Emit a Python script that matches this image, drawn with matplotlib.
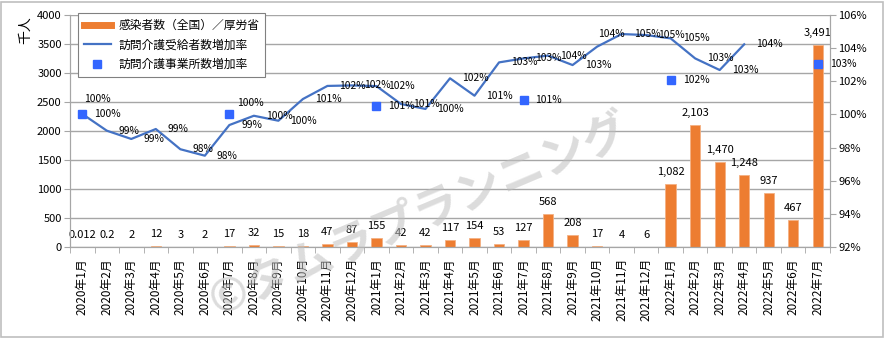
import matplotlib.pyplot as plt
import matplotlib.patches as mpatches
from matplotlib.lines import Line2D
import numpy as np

plt.rcParams['font.family'] = ['Noto Sans CJK JP', 'DejaVu Sans']

months = ['2020年1月', '2020年2月', '2020年3月', '2020年4月', '2020年5月', '2020年6月',
          '2020年7月', '2020年8月', '2020年9月', '2020年10月', '2020年11月', '2020年12月',
          '2021年1月', '2021年2月', '2021年3月', '2021年4月', '2021年5月', '2021年6月',
          '2021年7月', '2021年8月', '2021年9月', '2021年10月', '2021年11月', '2021年12月',
          '2022年1月', '2022年2月', '2022年3月', '2022年4月', '2022年5月', '2022年6月',
          '2022年7月']

# 感染者数(千人)
infected = [0.012, 0.2, 2, 12, 3, 2, 17, 32, 15, 18, 47, 87,
            155, 42, 42, 117, 154, 53, 127, 568, 208, 17, 4, 6,
            1082, 2103, 1470, 1248, 937, 467, 3491]

# 訪問介護受給者数増加率(%)
users_rate = [100.03, 99.02, 98.52, 99.12, 97.90, 97.51, 99.36, 99.92, 99.62, 100.93,
              101.72, 101.75, 101.71, 100.63, 100.33, 102.18, 101.13, 103.14, 103.38,
              103.55, 102.98, 104.09, 104.85, 104.79, 104.59, 103.38, 102.68, 104.23,
              np.nan, np.nan, np.nan]

# 訪問介護事業所数増加率(%)
office_idx = [0, 6, 12, 18, 24, 30]
office_rate = [100.03, 100.03, 100.52, 100.86, 102.08, 103.04]

orange = '#ED7D31'
blue = '#4472C4'
sq_blue = '#3366FF'
grey = '#A6A6A6'

x = np.arange(len(months))

fig = plt.figure(figsize=(8.84, 3.43), dpi=100)
ax = fig.add_axes([70/884, 1-247/343, 760/884, 232/343])
ax2 = ax.twinx()

ax.bar(x, infected, width=0.42, color=orange, edgecolor='#F4B183', linewidth=0.6, zorder=2)
for xi, v in zip(x, infected):
    ax.annotate('{:,}'.format(v), (xi, v), xytext=(0, 7), textcoords='offset pixels',
                ha='center', va='bottom', fontsize=8)

ax.set_xlim(-0.5, len(months)-0.5)
ax.set_ylim(0, 4000)
ax.set_yticks(np.arange(0, 4001, 500))
ax.set_xticks(x)
ax.set_xticklabels(months, rotation=90, fontsize=8.5)
ax.set_xticks(np.arange(-0.5, len(months)), minor=True)
ax.tick_params(axis='x', which='major', length=0, pad=8)
ax.tick_params(axis='x', which='minor', length=4, color=grey)
ax.tick_params(axis='y', length=4, color=grey, labelsize=8, pad=2)
ax.yaxis.grid(True, color=grey, lw=1)
ax.set_axisbelow(True)
ax.spines['top'].set_visible(False)
ax2.spines['top'].set_visible(False)
for s in ['left', 'right', 'bottom']:
    ax.spines[s].set_color(grey)
    ax2.spines[s].set_color(grey)

ax2.plot(x, users_rate, color=blue, lw=1.6, zorder=3)
ax2.plot(office_idx, office_rate, ls='none', marker='s', ms=5.5, color=sq_blue, zorder=4)
ax2.set_ylim(92, 106)
ax2.set_yticks(np.arange(92, 107, 2))
ax2.set_yticklabels([f'{t}%' for t in range(92, 107, 2)])
ax2.tick_params(axis='y', length=4, color=grey, labelsize=8, pad=2)

# Excel moved a few labels to dodge neighbours
line_nudge = {21: (1, 13)}
for xi, v in zip(x, users_rate):
    if np.isnan(v):
        continue
    dx, dy = line_nudge.get(xi, (12, 0))
    ax2.annotate(f'{round(v)}%', (xi, v), xytext=(dx, dy), textcoords='offset pixels',
                 ha='left', va='center', fontsize=7.4)

office_nudge = {0: (2, 15), 6: (8, 11)}
for xi, v in zip(office_idx, office_rate):
    dx, dy = office_nudge.get(xi, (12, 0))
    ax2.annotate(f'{round(v)}%', (xi, v), xytext=(dx, dy), textcoords='offset pixels',
                 ha='left', va='center', fontsize=7.4)

handles = [Line2D([], [], color=orange, lw=5),
           Line2D([], [], color=blue, lw=1.6),
           Line2D([], [], ls='none', marker='s', ms=5.5, color=sq_blue)]
labels = ['感染者数（全国）／厚労省', '訪問介護受給者数増加率', '訪問介護事業所数増加率']
leg = ax2.legend(handles, labels, loc='upper left', bbox_to_anchor=(78/884, 1-13/343),
                 bbox_transform=fig.transFigure, fontsize=8.5, fancybox=False,
                 edgecolor='#808080', framealpha=1, borderaxespad=0, handlelength=2.3,
                 handletextpad=0.6, labelspacing=0.55, borderpad=0.5)
leg.get_frame().set_linewidth(0.8)

fig.text(25/884, 1-16/343, '千人', rotation=90, ha='center', va='top', fontsize=10)

fig.text(0.475, 0.37, '©タムラプランニング', rotation=23, ha='center', va='center',
         fontsize=33, fontweight='bold', style='italic', color='#BFBFBF', alpha=0.55,
         zorder=10)

fig.patches.append(mpatches.Rectangle((1/884, 1-337/343), 882/884, 335/343,
                                      transform=fig.transFigure, fill=False,
                                      edgecolor='#BFBFBF', lw=1.2))

fig.savefig('out.png', dpi=100)
